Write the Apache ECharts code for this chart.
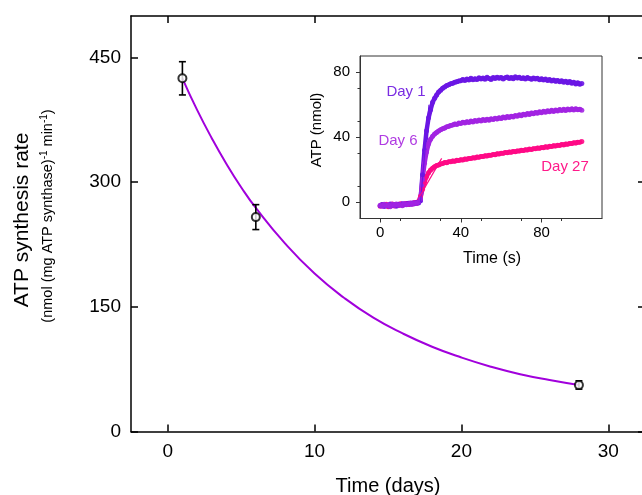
<!DOCTYPE html>
<html>
<head>
<meta charset="utf-8">
<script src="https://cdn.jsdelivr.net/npm/echarts@6/dist/echarts.min.js"></script>
<style>
  html, body { margin: 0; padding: 0; background: #fff; }
  #chart { width: 642px; height: 495px; }
</style>
</head>
<body>
<div id="chart"></div>
<script>
// Main panel: ATP synthesis rate vs storage time
const dayTicks = [0, 10, 20, 30];
const rateTicks = [0, 150, 300, 450];
const storageDays = [1, 6, 28];
const synthesisRate = [425, 258, 56];
const rateError = [20, 15, 5];
// Exponential decay fit, sampled along the drawn curve
const fitDays = [1, 2, 3, 4, 5, 6, 8, 10, 12, 14, 16, 18, 20, 22, 24, 26, 28];
const fitRate = [425, 387, 353, 322, 294, 269, 226, 190, 161, 137, 118, 102, 89, 78, 69, 62, 56];

// Inset: ATP produced over time (1 s sampling)
const insetTimeTicks = [0, 40, 80];
const insetAtpTicks = [0, 40, 80];
const day1Atp = [
  -2.1,-1.4,-2.6,-1.8,-2.3,-1.1,-2.0,-1.6,-2.4,-1.2,-1.7,-0.9,-1.5,-1.1,-0.6,-1.3,-0.4,-0.9,-0.2,-0.5,
  1.0,17,32,44,52,57,61.5,64,66,67.8,69,70.2,71,71.8,72.3,73,73.2,73.9,74.1,74.6,74.8,
  75.6,74.9,75.8,75.2,76.3,75.4,76.0,75.5,76.6,75.8,76.4,75.7,76.9,76.1,75.6,76.7,76.2,77.0,76.3,76.8,
  75.9,76.6,77.1,76.2,76.8,76.0,77.2,76.4,76.9,76.1,76.6,75.8,76.7,76.2,75.7,76.5,75.9,76.3,75.4,76.0,
  75.2,75.8,74.9,75.5,74.6,75.3,74.4,75.0,74.2,74.8,73.9,74.5,73.6,74.3,73.2,73.9,72.8,73.5,72.6,73.1
];
const day6Atp = [
  -1.8,-2.5,-1.2,-2.2,-1.5,-2.8,-1.3,-2.0,-1.0,-1.9,-1.4,-2.1,-0.8,-1.6,-1.0,-0.5,-1.2,-0.3,-0.8,0.1,
  2,14,24,31,36,38.8,40.6,42,43,43.9,44.6,45.3,45.7,46.4,46.7,47.3,47.6,48.2,47.9,48.7,48.5,
  49.3,48.8,49.6,49.1,50.0,49.4,50.3,49.8,50.6,50.0,50.9,50.3,51.1,50.5,51.4,50.9,51.7,51.2,52.0,51.5,
  52.4,51.8,52.7,52.2,53.0,52.5,53.4,52.9,53.8,53.3,54.2,53.7,54.6,54.0,55.0,54.4,55.3,54.8,55.7,55.1,
  56.0,55.4,56.3,55.7,56.6,55.9,56.8,56.2,57.1,56.4,57.2,56.5,57.4,56.7,57.5,56.8,57.6,56.9,57.3,56.6
];
const day27Atp = [
  -2.4,-1.6,-2.2,-1.3,-2.7,-1.8,-1.1,-2.3,-1.5,-2.0,-0.9,-1.7,-1.2,-0.7,-1.4,-0.6,-1.0,-0.2,-0.7,0.4,
  3.5,8,12.5,15.8,18.2,19.8,21.0,21.9,22.6,23.0,23.6,23.9,24.4,24.3,24.9,25.0,25.4,25.2,25.8,25.7,26.2,
  26.0,26.6,26.5,27.0,26.9,27.4,27.3,27.8,27.7,28.2,28.1,28.6,28.5,29.0,28.9,29.4,29.3,29.8,29.7,30.2,
  30.1,30.6,30.4,30.9,30.8,31.3,31.1,31.6,31.5,32.0,31.8,32.3,32.2,32.7,32.5,33.0,32.9,33.4,33.2,33.7,
  33.6,34.1,33.9,34.4,34.3,34.8,34.6,35.1,35.0,35.5,35.3,35.9,35.7,36.2,36.1,36.6,36.4,37.0,36.9,37.4
];
// Initial-rate tangents
const day1Tangent = [[20, 0], [24.2, 60]];
const day27Tangent = [[19.8, 4], [30.5, 27]];

const C_DAY1 = '#6a16e4';
const C_DAY6 = '#a224e2';
const C_DAY27 = '#ff0a86';
const C_FIT = '#a100dc';
const FONT = '"Liberation Sans", Arial, sans-serif';

const withTime = arr => arr.map((v, i) => [i, v]);
const pairs = (xs, ys) => xs.map((x, i) => [x, ys[i]]);

const chart = echarts.init(document.getElementById('chart'));

const mainAxisLine = { show: true, onZero: false, lineStyle: { color: '#000', width: 1.5 } };
const mainTick = { show: true, inside: true, length: 7, lineStyle: { color: '#000', width: 1.5 } };
const insetAxisLine = { show: true, onZero: false, lineStyle: { color: '#333', width: 1 } };

function traceSeries(name, values, color) {
  return {
    name: name, type: 'line', xAxisIndex: 2, yAxisIndex: 2, z: 7,
    data: withTime(values), symbol: 'circle', symbolSize: 5, showSymbol: true,
    itemStyle: { color: color, opacity: 0.9 }, lineStyle: { color: color, width: 4.5 }
  };
}

const option = {
  animation: false,
  backgroundColor: '#fff',
  grid: [
    { left: 131, top: 16, width: 514, height: 415.5, outerBoundsMode: 'none', containLabel: false },
    { left: 360, top: 56, width: 242, height: 162.5, outerBoundsMode: 'none', containLabel: false,
      show: true, backgroundColor: '#fff', borderColor: '#333', borderWidth: 1, z: 5 }
  ],
  xAxis: [
    {
      type: 'value', gridIndex: 0, position: 'bottom', min: -2.5, max: 32.5,
      axisLine: mainAxisLine, splitLine: { show: false },
      axisTick: Object.assign({ customValues: dayTicks }, mainTick),
      axisLabel: { customValues: dayTicks, fontSize: 19, color: '#000', fontFamily: FONT, margin: 11 }
    },
    {
      type: 'value', gridIndex: 0, position: 'top', min: -2.5, max: 32.5,
      axisLine: mainAxisLine, splitLine: { show: false },
      axisTick: Object.assign({ customValues: dayTicks }, mainTick),
      axisLabel: { show: false }
    },
    {
      type: 'value', gridIndex: 1, min: -10, max: 110, z: 6,
      axisLine: insetAxisLine, splitLine: { show: false },
      axisTick: { customValues: insetTimeTicks, length: 4, lineStyle: { color: '#333' } },
      minorTick: { show: true, splitNumber: 2, length: 2.5, lineStyle: { color: '#333' } },
      axisLabel: { customValues: insetTimeTicks, fontSize: 15, color: '#000', fontFamily: FONT, margin: 7 }
    }
  ],
  yAxis: [
    {
      type: 'value', gridIndex: 0, position: 'left', min: 0, max: 500,
      axisLine: mainAxisLine, splitLine: { show: false },
      axisTick: Object.assign({ customValues: rateTicks }, mainTick),
      axisLabel: { customValues: rateTicks, fontSize: 19, color: '#000', fontFamily: FONT, margin: 10 }
    },
    {
      type: 'value', gridIndex: 0, position: 'right', min: 0, max: 500,
      axisLine: mainAxisLine, splitLine: { show: false },
      axisTick: Object.assign({ customValues: rateTicks }, mainTick),
      axisLabel: { show: false }
    },
    {
      type: 'value', gridIndex: 1, min: -10, max: 90, z: 6,
      axisLine: insetAxisLine, splitLine: { show: false },
      axisTick: { customValues: insetAtpTicks, length: 4, lineStyle: { color: '#333' } },
      minorTick: { show: true, splitNumber: 2, length: 2.5, lineStyle: { color: '#333' } },
      axisLabel: { customValues: insetAtpTicks, fontSize: 15, color: '#000', fontFamily: FONT, margin: 10 }
    }
  ],
  series: [
    {
      name: 'fit', type: 'line', xAxisIndex: 0, yAxisIndex: 0, smooth: true,
      data: pairs(fitDays, fitRate), showSymbol: false,
      lineStyle: { color: C_FIT, width: 2 }, z: 2
    },
    {
      name: 'error', type: 'custom', xAxisIndex: 0, yAxisIndex: 0, z: 3,
      data: storageDays.map((d, i) => [d, synthesisRate[i] - rateError[i], synthesisRate[i] + rateError[i]]),
      renderItem: function (params, api) {
        const lo = api.coord([api.value(0), api.value(1)]);
        const hi = api.coord([api.value(0), api.value(2)]);
        const w = 3.5;
        const style = { stroke: '#000', lineWidth: 1.6, fill: null };
        return {
          type: 'group',
          children: [
            { type: 'line', shape: { x1: hi[0], y1: hi[1], x2: lo[0], y2: lo[1] }, style: style },
            { type: 'line', shape: { x1: hi[0] - w, y1: hi[1], x2: hi[0] + w, y2: hi[1] }, style: style },
            { type: 'line', shape: { x1: lo[0] - w, y1: lo[1], x2: lo[0] + w, y2: lo[1] }, style: style }
          ]
        };
      }
    },
    {
      name: 'rate', type: 'scatter', xAxisIndex: 0, yAxisIndex: 0, z: 4,
      data: pairs(storageDays, synthesisRate), symbol: 'circle', symbolSize: 8,
      itemStyle: { color: '#fff', borderColor: '#000', borderWidth: 2 }
    },
    traceSeries('Day 27', day27Atp, C_DAY27),
    traceSeries('Day 1', day1Atp, C_DAY1),
    traceSeries('Day 6', day6Atp, C_DAY6),
    {
      name: 'Day 1 rate', type: 'line', xAxisIndex: 2, yAxisIndex: 2, z: 8,
      data: day1Tangent, showSymbol: false, lineStyle: { color: C_DAY1, width: 1.2 }
    },
    {
      name: 'Day 27 rate', type: 'line', xAxisIndex: 2, yAxisIndex: 2, z: 8,
      data: day27Tangent, showSymbol: false, lineStyle: { color: C_DAY27, width: 1.2 }
    }
  ],
  graphic: [
    {
      type: 'text', x: 22, y: 220, rotation: Math.PI / 2,
      style: { text: 'ATP synthesis rate', fontSize: 21, fontFamily: FONT, fill: '#000', align: 'center', verticalAlign: 'middle' }
    },
    {
      type: 'text', x: 48, y: 216, rotation: Math.PI / 2,
      style: {
        text: '(nmol (mg ATP synthase){s|-1} min{s|-1})',
        fontSize: 14.5, fontFamily: FONT, fill: '#000', align: 'center', verticalAlign: 'middle',
        rich: { s: { fontSize: 10, fontFamily: FONT, fill: '#000', padding: [0, 0, 8, 0] } }
      }
    },
    {
      type: 'text', x: 388, y: 486,
      style: { text: 'Time (days)', fontSize: 20, fontFamily: FONT, fill: '#000', align: 'center', verticalAlign: 'middle' }
    },
    {
      type: 'text', x: 317, y: 130, rotation: Math.PI / 2, z: 10,
      style: { text: 'ATP (nmol)', fontSize: 15, fontFamily: FONT, fill: '#000', align: 'center', verticalAlign: 'middle' }
    },
    {
      type: 'text', x: 492, y: 259, z: 10,
      style: { text: 'Time (s)', fontSize: 16, fontFamily: FONT, fill: '#000', align: 'center', verticalAlign: 'middle' }
    },
    {
      type: 'text', x: 406, y: 92, z: 10,
      style: { text: 'Day 1', fontSize: 15, fontFamily: FONT, fill: '#7a2ce2', align: 'center', verticalAlign: 'middle' }
    },
    {
      type: 'text', x: 398, y: 141, z: 10,
      style: { text: 'Day 6', fontSize: 15, fontFamily: FONT, fill: '#b03ce2', align: 'center', verticalAlign: 'middle' }
    },
    {
      type: 'text', x: 565, y: 167, z: 10,
      style: { text: 'Day 27', fontSize: 15, fontFamily: FONT, fill: '#ff1a8a', align: 'center', verticalAlign: 'middle' }
    }
  ]
};

chart.setOption(option);
</script>
</body>
</html>
